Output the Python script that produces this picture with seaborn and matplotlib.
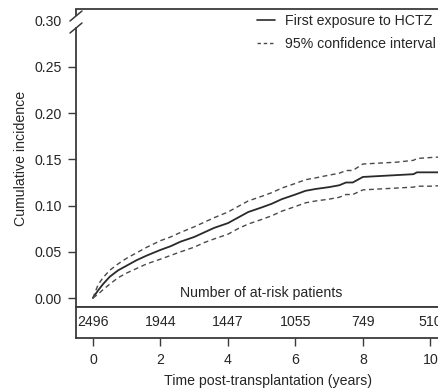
import matplotlib
matplotlib.use("Agg")
import matplotlib.pyplot as plt
import matplotlib.transforms as mtransforms
from matplotlib.lines import Line2D
import seaborn as sns
import pandas as pd

# ---- data ----
time_years = [0, 0.15, 0.3, 0.5, 0.75, 1.0, 1.3, 1.6, 2.0, 2.3, 2.6, 3.0, 3.3, 3.6,
              4.0, 4.3, 4.6, 5.0, 5.3, 5.6, 6.0, 6.3, 6.6, 7.0, 7.3, 7.5, 7.7, 8.0,
              8.5, 9.0, 9.5, 9.6, 10.0, 10.5]
incidence = [0, 0.008, 0.015, 0.023, 0.030, 0.035, 0.041, 0.046, 0.052, 0.056, 0.061,
             0.066, 0.071, 0.076, 0.081, 0.087, 0.093, 0.098, 0.102, 0.107, 0.112,
             0.116, 0.118, 0.120, 0.122, 0.125, 0.125, 0.131, 0.132, 0.133, 0.134,
             0.136, 0.136, 0.136]
ci_upper = [0, 0.014, 0.022, 0.030, 0.037, 0.043, 0.049, 0.055, 0.062, 0.066, 0.071,
            0.077, 0.082, 0.087, 0.093, 0.099, 0.105, 0.110, 0.114, 0.119, 0.124,
            0.128, 0.130, 0.133, 0.135, 0.138, 0.138, 0.145, 0.146, 0.147, 0.149,
            0.151, 0.152, 0.153]
ci_lower = [0, 0.004, 0.009, 0.015, 0.022, 0.027, 0.032, 0.037, 0.042, 0.046, 0.050,
            0.055, 0.060, 0.064, 0.069, 0.075, 0.080, 0.085, 0.089, 0.094, 0.099,
            0.103, 0.105, 0.107, 0.109, 0.112, 0.112, 0.117, 0.118, 0.119, 0.120,
            0.121, 0.121, 0.122]
risk_times = [0, 2, 4, 6, 8, 10]
risk_counts = [2496, 1944, 1447, 1055, 749, 510]
y_ticks = [0.00, 0.05, 0.10, 0.15, 0.20, 0.25, 0.30]

df = pd.DataFrame({"t": time_years, "inc": incidence, "up": ci_upper, "lo": ci_lower})

sns.set_theme(style="white")
plt.rcParams["font.family"] = ["Liberation Sans", "DejaVu Sans"]
TXT = "#262626"
LC = "#3a3a3a"
FS = 10.2

W, H = 438, 390
fig = plt.figure(figsize=(W / 100, H / 100), dpi=100)
fig.patch.set_facecolor("white")

def fx(px): return px / W
def fy(py): return 1 - py / H

left_px, right_px = 76, 460
top_px, mid_px, bot_px = 9, 307, 338
ax = fig.add_axes([fx(left_px), fy(mid_px), fx(right_px - left_px), (mid_px - top_px) / H])
axt = fig.add_axes([fx(left_px), fy(bot_px), fx(right_px - left_px), (bot_px - mid_px) / H], sharex=ax)

xmin = -0.5
xmax = xmin + (right_px - left_px) / 33.75
y0 = 0.0
ppv = 46.2 / 0.05  # pixels per unit
ymin = y0 - (mid_px - 298) / ppv
ymax = y0 + (298 - top_px) / ppv

sns.lineplot(data=df, x="t", y="inc", ax=ax, color="#2a2a2a", lw=1.3, estimator=None)
sns.lineplot(data=df, x="t", y="up", ax=ax, color="#4a4a4a", lw=1.0, estimator=None,
             dashes=False, linestyle=(0, (3.5, 2.5)))
sns.lineplot(data=df, x="t", y="lo", ax=ax, color="#4a4a4a", lw=1.0, estimator=None,
             dashes=False, linestyle=(0, (3.5, 2.5)))

ax.set_xlim(xmin, xmax)
ax.set_ylim(ymin, ymax)
ax.set_xlabel("")
ax.set_ylabel("Cumulative incidence", fontsize=FS, color=TXT, labelpad=5)
ax.set_yticks(y_ticks)
ax.set_yticklabels([f"{v:.2f}" for v in y_ticks], fontsize=FS, color=TXT)
ax.tick_params(axis="y", direction="out", length=6, width=1.0, color=LC, pad=4, left=True)
ax.tick_params(axis="x", bottom=False, labelbottom=False)
ax.yaxis.get_major_ticks()[-1].tick1line.set_visible(False)

ax.spines["right"].set_visible(False)
for s in ["top", "left", "bottom"]:
    ax.spines[s].set_color(LC)
    ax.spines[s].set_linewidth(1.3)
# break in left spine
brk_lo = y0 + (298 - 28) / ppv
brk_hi = y0 + (298 - 16) / ppv
ax.spines["left"].set_bounds(ymin, brk_lo)
trans = mtransforms.blended_transform_factory(ax.transAxes, ax.transData)
ax.plot([0, 0], [brk_hi, ymax], transform=trans, color=LC, lw=1.3, clip_on=False,
        solid_capstyle="butt")
dx = 6 / (right_px - left_px)
dy = 5 / ppv
for yc in (brk_lo, brk_hi):
    ax.plot([-dx, dx], [yc - dy, yc + dy], transform=trans, color=LC, lw=1.1, clip_on=False)

ax.text(5, y0 + (298 - 293) / ppv, "Number of at-risk patients", ha="center", va="center",
        fontsize=FS, color=TXT)

handles = [Line2D([], [], color="#2a2a2a", lw=1.2),
           Line2D([], [], color="#4a4a4a", lw=1.0, linestyle=(0, (2.5, 2)))]
fig.legend(handles, ["First exposure to HCTZ", "95% confidence interval"],
           loc="upper left", bbox_to_anchor=(fx(257), fy(14)), frameon=False,
           fontsize=FS, handlelength=1.25, handletextpad=0.7, labelspacing=0.65,
           borderpad=0, borderaxespad=0, labelcolor=TXT)

# risk table
axt.set_ylim(0, 1)
for t, n in zip(risk_times, risk_counts):
    axt.text(t, 0.5, str(n), ha="center", va="center", fontsize=FS, color=TXT)
axt.set_yticks([])
axt.set_xticks(risk_times)
axt.set_xticklabels([str(t) for t in risk_times], fontsize=FS, color=TXT)
axt.tick_params(axis="x", direction="out", length=6, width=1.0, color=LC, pad=5, bottom=True)
axt.spines["right"].set_visible(False)
for s in ["top", "left", "bottom"]:
    axt.spines[s].set_color(LC)
    axt.spines[s].set_linewidth(1.3)
axt.set_xlabel("Time post-transplantation (years)", fontsize=FS, color=TXT, labelpad=5)
axt.set_facecolor("white")

fig.savefig("out.png", dpi=100, facecolor="white")
